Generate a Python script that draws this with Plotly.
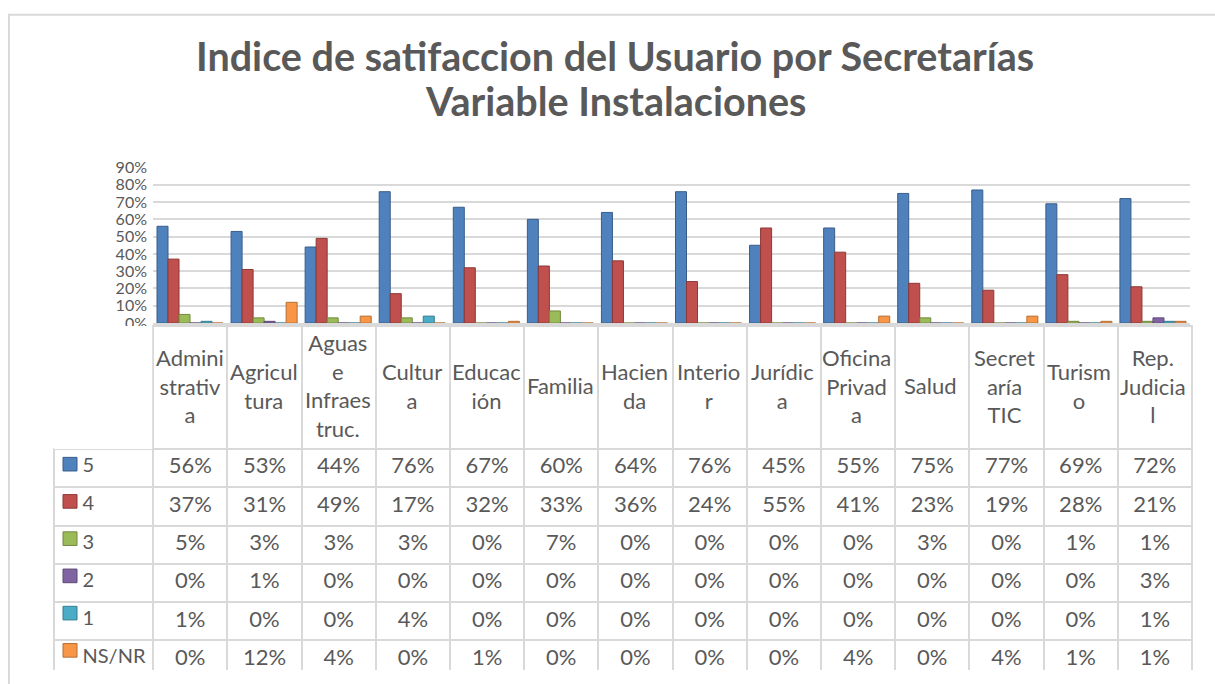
import plotly.graph_objects as go

# ---------------- data ----------------
categories = ["Administrativa", "Agricultura", "Aguas e Infraestruc.", "Cultura",
              "Educación", "Familia", "Hacienda", "Interior", "Jurídica",
              "Oficina Privada", "Salud", "Secretaría TIC", "Turismo", "Rep. Judicial"]
header_labels = ["Admini<br>strativ<br>a", "Agricul<br>tura", "Aguas<br>e<br>Infraes<br>truc.",
                 "Cultur<br>a", "Educac<br>ión", "Familia", "Hacien<br>da", "Interio<br>r",
                 "Jurídic<br>a", "Oficina<br>Privad<br>a", "Salud", "Secret<br>aría<br>TIC",
                 "Turism<br>o", "Rep.<br>Judicia<br>l"]
series_names = ["5", "4", "3", "2", "1", "NS/NR"]
v5 = [56, 53, 44, 76, 67, 60, 64, 76, 45, 55, 75, 77, 69, 72]
v4 = [37, 31, 49, 17, 32, 33, 36, 24, 55, 41, 23, 19, 28, 21]
v3 = [5, 3, 3, 3, 0, 7, 0, 0, 0, 0, 3, 0, 1, 1]
v2 = [0, 1, 0, 0, 0, 0, 0, 0, 0, 0, 0, 0, 0, 3]
v1 = [1, 0, 0, 4, 0, 0, 0, 0, 0, 0, 0, 0, 0, 1]
vns = [0, 12, 4, 0, 1, 0, 0, 0, 0, 4, 0, 4, 1, 1]
series_values = [v5, v4, v3, v2, v1, vns]
title_lines = ["Indice de satifaccion del Usuario por Secretarías", "Variable Instalaciones"]

# ---------------- style ----------------
W, H = 1215, 684
colors = ["#4F81BD", "#C0504D", "#9BBB59", "#8064A2", "#4BACC6", "#F79646"]
edges = ["#385D8A", "#8C3836", "#71893F", "#5C4776", "#357D91", "#B66D31"]
TXT = "#595959"
GRID = "#D9D9D9"
FONT = "Lato"

def px_x(x):
    return min(1.0, max(0.0, x / W))

def px_y(y):
    return min(1.0, max(0.0, 1 - y / H))

plot_left, plot_right = 153, 1190
plot_top, plot_bottom = 162, 322
table_left, table_top = 54, 325
header_h, row_h = 123, 38.3
first_col_w = plot_left - table_left
col_w = (plot_right - plot_left) / len(categories)
table_bottom = table_top + header_h + row_h * len(series_names)

fig = go.Figure()

for name, vals, c, e in zip(series_names, series_values, colors, edges):
    fig.add_trace(go.Bar(
        x=categories, y=[v / 100 for v in vals], name=name,
        marker=dict(color=c, line=dict(color=e, width=1)),
        showlegend=False,
    ))

# data table
cell_cols = [["\u00a0" * 4 + n for n in series_names]]
for i in range(len(categories)):
    cell_cols.append([f"{s[i]}%" for s in series_values])

fig.add_trace(go.Table(
    domain=dict(x=[px_x(table_left), px_x(plot_right + 2)],
                y=[px_y(table_bottom + 2), px_y(table_top)]),
    columnwidth=[first_col_w] + [col_w] * len(categories),
    header=dict(values=[""] * (len(categories) + 1), height=header_h,
                fill=dict(color="white"),
                line=dict(color=["rgba(0,0,0,0)"] + [GRID] * len(categories), width=2),
                font=dict(family=FONT, size=20, color=TXT)),
    cells=dict(values=cell_cols, height=row_h,
               fill=dict(color="white"),
               line=dict(color=GRID, width=2),
               align=["left"] + ["center"] * len(categories),
               font=dict(family=FONT, size=[20] + [22] * len(categories), color=TXT)),
))

annotations = []
# header labels (centered in header row)
for cat, lab in zip(categories, header_labels):
    annotations.append(dict(
        x=cat, xref="x", y=px_y(table_top + header_h / 2), yref="paper",
        text=lab, showarrow=False, xanchor="center", yanchor="middle",
        font=dict(family=FONT, size=22, color=TXT), align="center",
    ))
# title, one annotation per line
for line, cy in zip(title_lines, [47, 93]):
    annotations.append(dict(
        x=px_x(615), xref="paper", y=px_y(cy), yref="paper",
        text=line, showarrow=False, xanchor="center", yanchor="middle",
        font=dict(family=FONT, size=39.5, color=TXT, weight="bold"),
    ))

shapes = [dict(type="rect", xref="paper", yref="paper",
               x0=px_x(9), x1=1.05, y0=-0.05, y1=px_y(5),
               line=dict(color=GRID, width=2), layer="below")]
# legend keys in the table's first column
for i, (c, e) in enumerate(zip(colors, edges)):
    cy = table_top + header_h + row_h * i + row_h / 2
    shapes.append(dict(type="rect", xref="paper", yref="paper",
                       x0=px_x(63), x1=px_x(77), y0=px_y(cy + 7), y1=px_y(cy - 7),
                       fillcolor=c, line=dict(color=e, width=1), layer="above"))

fig.update_layout(
    width=W, height=H, autosize=False,
    margin=dict(l=0, r=0, t=0, b=0),
    paper_bgcolor="white", plot_bgcolor="white",
    barmode="group", bargap=0.108, bargroupgap=0,
    font=dict(family=FONT, color=TXT),
    xaxis=dict(domain=[px_x(plot_left), px_x(plot_right)], showticklabels=False,
               showgrid=False, zeroline=False, showline=True, linecolor=GRID, linewidth=2,
               ticks="outside", tickson="boundaries", ticklen=4, tickcolor=GRID, tickwidth=2,
               fixedrange=True),
    yaxis=dict(domain=[px_y(plot_bottom), px_y(plot_top)], range=[0, 0.9], dtick=0.1,
               tickformat=".0%", showgrid=True, gridcolor=GRID, gridwidth=2,
               zeroline=False, showline=False, ticks="",
               tickfont=dict(family=FONT, size=16, color=TXT), ticklabelstandoff=5,
               fixedrange=True),
    annotations=annotations,
    shapes=shapes,
)

# remove the browser's default 8px page margin so the figure fills the window exactly
fig.write_html("out.html",
               config={"displayModeBar": False},
               post_script="document.body.style.margin='0';document.body.style.overflow='hidden';")
